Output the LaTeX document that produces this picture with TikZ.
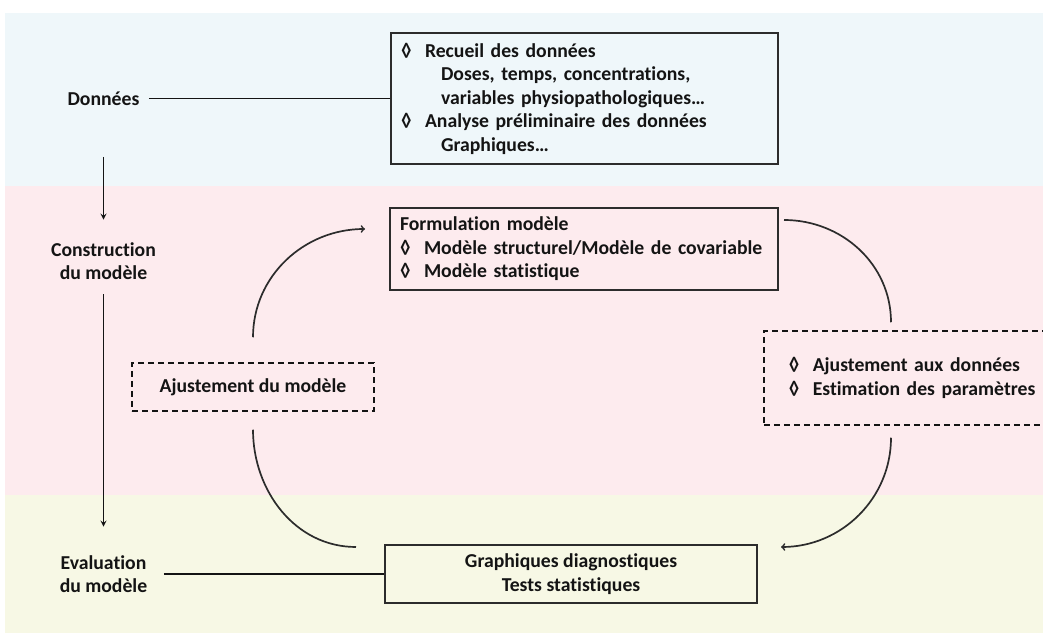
\documentclass[tikz,border=0pt]{standalone}
\usepackage{fontspec}
\setmainfont{Carlito}[Ligatures=NoCommon]
\usetikzlibrary{backgrounds,arrows}

\definecolor{ink}{HTML}{141414}
\definecolor{bandblue}{HTML}{EFF7FA}
\definecolor{bandpink}{HTML}{FDEBEE}
\definecolor{bandgreen}{HTML}{F7F8E5}

\newcommand{\itm}[1]{\makebox[24pt][l]{◊}#1}

\begin{document}
\begin{tikzpicture}
		[x=1pt,y=1pt,
		every node/.style={font=\fontsize{19.7}{23.5}\selectfont\bfseries,text=ink},
		stage/.style={align=center},
		box/.style={draw=ink!90,line width=2pt,inner xsep=10pt},
		dashbox/.style={draw=ink,line width=1.5pt,dash pattern=on 6pt off 4pt},
		link/.style={draw=ink,line width=1.7pt},
		loop/.style={draw=ink!90,line width=1.7pt}]

		\useasboundingbox (0,0) rectangle (1043,634);
		\clip (0,0) rectangle (1043,634);

		% boxes
		\node[box,anchor=west,minimum height=131pt,text width=367pt,align=left] (recueil) at (390,535.5)
			{\itm{Recueil des données}\\
			\hspace*{40pt}Doses, temps, concentrations,\\
			\hspace*{40pt}variables physiopathologiques…\\
			\itm{Analyse préliminaire des données}\\
			\hspace*{40pt}Graphiques…};

		\node[box,anchor=west,minimum height=82pt,text width=368pt,align=left] (formul) at (389,385)
			{Formulation modèle\\
			\itm{Modèle structurel/Modèle de covariable}\\
			\itm{Modèle statistique}};

		\node[dashbox,minimum width=242pt,minimum height=48pt] (ajmod) at (253,247) {Ajustement du modèle};

		\node[dashbox,anchor=west,minimum height=94pt,text width=260pt,inner xsep=25pt,align=left] (ajdon) at (763,256)
			{\itm{Ajustement aux données}\\
			\itm{Estimation des paramètres}};

		\node[box,minimum width=372pt,minimum height=58pt,align=center] (diag) at (571,60)
			{Graphiques diagnostiques\\ Tests statistiques};

		% steps
		\node[stage] (donnees) at (103.5,535.5) {Données}
			edge [link,shorten <=6pt] (recueil)
		;
		\node[stage] (constr) at (103.5,373) {Construction\\ du modèle};
		\node[stage] (evalu) at (103.5,60) {Evaluation\\ du modèle}
			edge [link,shorten <=13pt] (diag)
		;

		\draw[link,-stealth,shorten <=48pt,shorten >=19pt] (donnees.south) -- (constr.north);
		\draw[link,-stealth,shorten <=11pt,shorten >=25pt] (constr) -- (evalu);

		% loop
		\draw[loop,->] ([yshift=25pt]ajmod.north) to[out=90,in=180] ([xshift=-24pt,yshift=-22pt]formul.north west);
		\draw[loop] ([xshift=5pt,yshift=-13pt]formul.north east) to[out=0,in=90] ([xshift=128pt,yshift=8pt]ajdon.north west);
		\draw[loop,->] ([xshift=128pt,yshift=-12pt]ajdon.south west) to[out=-90,in=0] ([xshift=23pt,yshift=-3pt]diag.north east);
		\draw[loop] ([yshift=-18pt]ajmod.south) to[out=-90,in=180] ([xshift=-28pt,yshift=-3pt]diag.north west);

		\begin{pgfonlayer}{background}
			\fill[bandblue] (5,621) rectangle (1043,448);
			\fill[bandpink] (5,448) rectangle (1043,139);
			\fill[bandgreen] (5,139) rectangle (1043,1);
		\end{pgfonlayer}

	\end{tikzpicture}
\end{document}
